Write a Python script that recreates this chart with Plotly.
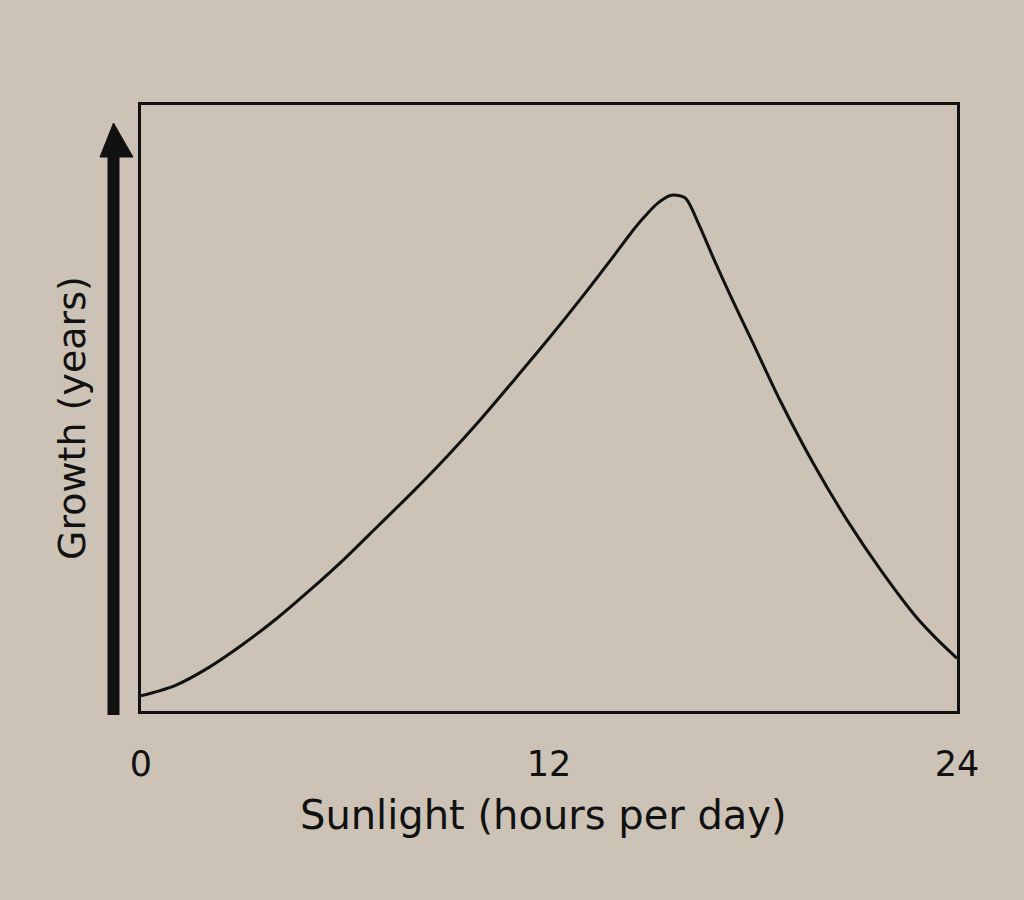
import plotly.graph_objects as go

# Data
hours = [0, 1, 2, 3, 4, 5, 6, 7, 8, 9, 10, 11, 12, 13, 14, 14.4, 14.8, 15.2,
         15.6, 16.0, 16.4, 16.8, 17.2, 17.6, 18.0, 18.8, 19.8, 20.8, 21.8,
         22.8, 23.4, 24]
growth = [0.25, 0.42, 0.72, 1.10, 1.53, 2.01, 2.52, 3.07, 3.62, 4.20, 4.82, 5.48,
          6.15, 6.85, 7.58, 7.88, 8.15, 8.38, 8.51, 8.47, 8.04, 7.52, 7.02, 6.54,
          6.07, 5.12, 4.06, 3.12, 2.29, 1.55, 1.19, 0.87]
tick_vals = [0, 12, 24]
tick_text = ["0", "12", "24"]

BG = "#ccc3b6"
INK = "#111111"
FONT = "DejaVu Sans"

fig = go.Figure()
fig.add_trace(go.Scatter(
    x=hours, y=growth, mode="lines",
    line=dict(color=INK, width=3, shape="spline", smoothing=0.8),
    hoverinfo="skip", showlegend=False,
))

L, R, T, B = 141, 67, 105, 189
W, H = 1024, 900
pw, ph = W - L - R, H - T - B

def px(xp):
    return (xp - L) / pw

def py(yp):
    return (H - B - yp) / ph

fig.update_layout(
    width=W, height=H,
    margin=dict(l=L, r=R, t=T, b=B),
    paper_bgcolor=BG, plot_bgcolor=BG,
    font=dict(family=FONT, color=INK, size=38),
    xaxis=dict(range=[0, 24], tickvals=tick_vals, ticktext=tick_text,
               showgrid=False, zeroline=False, showline=True, mirror=True,
               linecolor=INK, linewidth=3, ticks="outside", ticklen=20,
               tickcolor="rgba(0,0,0,0)", tickfont=dict(size=35, family=FONT, color=INK)),
    yaxis=dict(range=[0, 10], showticklabels=False, showgrid=False, zeroline=False,
               showline=True, mirror=True, linecolor=INK, linewidth=3, ticks=""),
    shapes=[
        dict(type="line", xref="paper", yref="paper",
             x0=px(113.5), x1=px(113.5), y0=py(715), y1=py(150),
             line=dict(color=INK, width=12)),
        dict(type="path", xref="paper", yref="paper",
             path=f"M {px(100)},{py(157)} L {px(113.5)},{py(123)} L {px(133)},{py(157)} Z",
             fillcolor=INK, line=dict(color=INK, width=1)),
    ],
    annotations=[
        dict(text="Growth (years)", xref="paper", yref="paper",
             x=px(72), y=py(418), textangle=-90, showarrow=False,
             xanchor="center", yanchor="middle", font=dict(size=38, family=FONT, color=INK)),
        dict(text="Sunlight (hours per day)", xref="paper", yref="paper",
             x=px(543), y=py(815), showarrow=False,
             xanchor="center", yanchor="middle", font=dict(size=40, family=FONT, color=INK)),
    ],
)

fig.write_html(
    "out.html",
    config={"displayModeBar": False},
    post_script="document.body.style.margin='0';document.body.style.background='%s';" % BG,
)
